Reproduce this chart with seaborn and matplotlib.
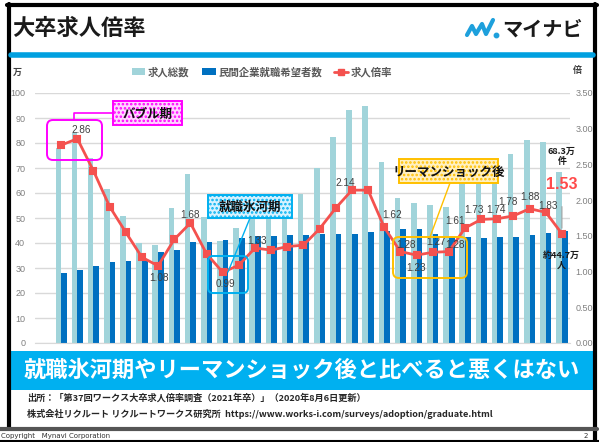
import numpy as np
import pandas as pd
import seaborn as sns
import matplotlib
matplotlib.use("Agg")
import matplotlib.pyplot as plt
import matplotlib.transforms as mtransforms
from matplotlib.patches import Rectangle, FancyBboxPatch, Patch
from matplotlib.lines import Line2D

# ---------------- data ----------------
years = [str(y) for y in range(1990, 2022)]
job_openings = [77.99, 84.03, 73.86, 61.70, 50.77, 40.00, 39.05, 54.12, 67.55, 50.24,
                40.76, 46.16, 57.35, 55.98, 58.34, 59.60, 69.82, 82.51, 93.28, 94.84,
                72.51, 58.19, 55.99, 55.35, 54.34, 68.32, 71.94, 73.43, 75.51, 81.35,
                80.50, 68.30]
applicants = [28.11, 29.35, 30.64, 32.35, 32.66, 33.28, 36.23, 37.30, 40.32, 40.32,
              41.23, 42.16, 43.00, 42.94, 43.30, 43.40, 43.60, 43.69, 43.48, 44.40,
              44.78, 45.55, 45.44, 43.42, 42.27, 42.35, 41.84, 42.26, 42.32, 43.21,
              44.02, 44.70]
ratio = [2.77, 2.86, 2.41, 1.91, 1.55, 1.20, 1.08, 1.45, 1.68, 1.25,
         0.99, 1.09, 1.33, 1.30, 1.35, 1.37, 1.60, 1.89, 2.14, 2.14,
         1.62, 1.28, 1.23, 1.27, 1.28, 1.61, 1.73, 1.74, 1.78, 1.88,
         1.83, 1.53]
series_names = ["求人総数", "民間企業就職希望者数", "求人倍率"]
left_ticks = list(range(0, 101, 10))
right_ticks = [0.0, 0.5, 1.0, 1.5, 2.0, 2.5, 3.0, 3.5]

# labelled points: index -> (dx px, dy px)
label_pts = {1: (4, 9), 6: (1, -12), 8: (0, 8), 10: (3, -12), 12: (2, 7),
             18: (-7, 7), 20: (8, 12), 21: (6, 7), 22: (0, -13), 23: (3, 10),
             24: (6, 7), 25: (-10, 7), 26: (-7, 9), 27: (-1, 9), 28: (-6, 14),
             29: (0, 12), 30: (2, 6)}

# ---------------- style ----------------
LIGHT = "#a1d4da"
DARK = "#0070c0"
RED = "#f4514e"
NUMFONT = ["Liberation Sans", "DejaVu Sans"]
sns.set_style("white")
plt.rcParams["font.family"] = ["Noto Sans CJK JP", "DejaVu Sans"]
plt.rcParams["hatch.linewidth"] = 1.2

W, H = 599, 442
fig = plt.figure(figsize=(W / 100, H / 100), dpi=100)
PX = mtransforms.Affine2D().scale(1 / W, -1 / H).translate(0, 1) + fig.transFigure

ax = fig.add_axes([35 / W, 1 - 343 / H, 535 / W, 250 / H])

df = pd.DataFrame({
    "year": years * 2,
    "series": [series_names[0]] * len(years) + [series_names[1]] * len(years),
    "value": job_openings + applicants,
})
sns.barplot(data=df, x="year", y="value", hue="series", hue_order=series_names[:2],
            palette=[LIGHT, DARK], saturation=1, width=0.7, ax=ax, legend=False,
            linewidth=0)

ax.set_ylim(0, 100)
ax.set_yticks(left_ticks)
ax.set_yticklabels([str(t) for t in left_ticks], family=NUMFONT)
ax.grid(axis="y", color="#d9d9d9", linewidth=1)
ax.set_axisbelow(True)
ax.set_xlabel("")
ax.set_ylabel("")
for s in ["top", "right", "left"]:
    ax.spines[s].set_visible(False)
ax.spines["bottom"].set_color("#d9d9d9")
ax.set_xticks(np.arange(-0.5, len(years), 1.0))
ax.set_xticklabels([])
ax.tick_params(axis="x", length=3, color="#d9d9d9", width=0.8)
ax.tick_params(axis="y", length=0, labelsize=6.5, labelcolor="#808080", pad=7)

ax2 = ax.twinx()
rdf = pd.DataFrame({"year": years, "ratio": ratio})
sns.pointplot(data=rdf, x="year", y="ratio", ax=ax2, color=RED, markers="s",
              linestyles="-", markersize=5, linewidth=2.0, errorbar=None)
ax2.set_ylim(0, 3.5)
ax2.set_yticks(right_ticks)
ax2.set_yticklabels([f"{t:.2f}" for t in right_ticks], family=NUMFONT)
ax2.set_xlabel("")
ax2.set_ylabel("")
for s in ["top", "right", "left", "bottom"]:
    ax2.spines[s].set_visible(False)
ax2.tick_params(axis="y", length=0, labelsize=6.5, labelcolor="#808080", pad=4)
ax2.tick_params(axis="x", length=0)
ax.set_xlim(-1.62, len(years) - 0.5)
ax2.set_xlim(-1.62, len(years) - 0.5)

for i, (dx, dy) in label_pts.items():
    ax2.annotate(f"{ratio[i]:.2f}", xy=(i, ratio[i]), xytext=(dx, dy),
                 textcoords="offset pixels", ha="center", va="center",
                 fontsize=7.2, color="#404040", family=NUMFONT)

last = len(years) - 1
ax2.annotate(f"{ratio[last]:.2f}", xy=(last, ratio[last]), xytext=(0, 49),
             textcoords="offset pixels", ha="center", va="center",
             fontsize=11.5, fontweight="bold", color="#ff4b4b", family=NUMFONT,
             arrowprops=dict(arrowstyle="-", color="#a0a0a0", lw=0.8,
                             shrinkA=8, shrinkB=4))
ax.annotate(f"{job_openings[last]:.1f}万\n件", xy=(last, job_openings[last]),
            xytext=(0, 16), textcoords="offset pixels", ha="center", va="center",
            fontsize=6.5, fontweight="bold", color="#1a1a1a", linespacing=1.15)
ax.annotate(f"約{applicants[last]:.1f}万\n人", xy=(last, applicants[last]),
            xytext=(-1, -29), textcoords="offset pixels", ha="center", va="center",
            fontsize=6.5, fontweight="bold", color="#1a1a1a", linespacing=1.15)

# ---------------- decorations (pixel coords, y from top) ----------------
def line(xs, ys, color, lw, **kw):
    fig.add_artist(Line2D(xs, ys, color=color, lw=lw, transform=PX, **kw))

def rrect(x0, y0, x1, y1, color, lw=1.4, r=4):
    fig.add_artist(FancyBboxPatch((x0, y0), x1 - x0, y1 - y0,
                                  boxstyle=f"round,pad=0,rounding_size={r}",
                                  fill=False, edgecolor=color, lw=lw, transform=PX,
                                  zorder=5))

def label_box(x0, y0, x1, y1, color, tint, text):
    fig.add_artist(Rectangle((x0, y0), x1 - x0, y1 - y0, facecolor=tint,
                             edgecolor=color, hatch="....", lw=0, transform=PX,
                             zorder=5))
    fig.add_artist(Rectangle((x0, y0), x1 - x0, y1 - y0, fill=False,
                             edgecolor=color, lw=1.4, transform=PX, zorder=6))
    fig.text((x0 + x1) / 2, (y0 + y1) / 2 + 1, text, transform=PX, ha="center",
             va="center", fontsize=9, fontweight="bold", color="#111111", zorder=7)

# bubble period
MAG = "#ff00ff"
rrect(47, 120, 102, 160, MAG, r=6)
line([74, 74, 113], [120, 113, 113], MAG, 1.2, zorder=5)
label_box(113, 101, 182, 125, MAG, "#ffd6ff", "バブル期")

# ice age
CY = "#00b0f0"
rrect(208, 256, 248, 293, CY, r=5)
line([250, 228], [218, 272], CY, 1.0, zorder=5)
label_box(208, 195, 292, 218, CY, "#d6f2ff", "就職氷河期")

# after Lehman
GOLD = "#ffc000"
rrect(393, 237, 467, 278, GOLD, r=6)
line([450, 430], [183, 237], GOLD, 1.0, zorder=5)
label_box(399, 159, 498, 183, GOLD, "#fff0c2", "リーマンショック後")

# frame
line([9, 9], [4, 428], "black", 3.0)
line([7, 597], [5, 5], "black", 3.0)
line([595, 595], [4, 442], "black", 3.0)
line([0, 597], [429, 429], "#555555", 3.0)
line([0, 599], [441, 441], "black", 1.5)

# header
fig.text(12, 28, "大卒求人倍率", transform=PX, ha="left", va="center",
         fontsize=16, fontweight="bold", color="#1a1a1a")
line([467, 472, 476, 482, 486, 493], [35, 26, 34, 24, 34, 20], "#1ea0dc", 3.0,
     solid_capstyle="round", solid_joinstyle="round")
fig.add_artist(Line2D([496], [35], marker="o", markersize=3.2, color="#1ea0dc",
                      transform=PX))
fig.text(542, 29, "マイナビ", transform=PX, ha="center", va="center",
         fontsize=14.5, fontweight="bold", color="#1a1a1a")
line([11, 593], [55, 55], "#00a0e0", 4.0)

# legend row
fig.text(17, 72, "万", transform=PX, ha="center", va="center", fontsize=6.5,
         fontweight="bold", color="#404040")
fig.text(577, 70, "倍", transform=PX, ha="center", va="center", fontsize=6.5,
         fontweight="bold", color="#404040")
handles = [Patch(facecolor=LIGHT, edgecolor="none"),
           Patch(facecolor=DARK, edgecolor="none"),
           Line2D([], [], color=RED, lw=2, marker="s", markersize=4)]
fig.legend(handles, series_names, loc="center",
           bbox_to_anchor=(262 / W, 1 - 72 / H), ncol=3, frameon=False,
           prop={"size": 7.5, "weight": "bold"}, labelcolor="#595959",
           handlelength=1.3, handleheight=0.6, handletextpad=0.25,
           columnspacing=1.2)

# banner
fig.add_artist(Rectangle((11, 351), 582, 39, facecolor="#00b0f0",
                         edgecolor="none", transform=PX))
fig.text(302, 370, "就職氷河期やリーマンショック後と比べると悪くはない",
         transform=PX, ha="center", va="center", fontsize=16,
         fontweight="bold", color="white")

# source
fig.text(27, 398, "出所：「第37回ワークス大卒求人倍率調査（2021年卒）」（2020年8月6日更新）",
         transform=PX, ha="left", va="center", fontsize=6.6, fontweight="bold",
         color="#262626")
fig.text(27, 414, "株式会社リクルート リクルートワークス研究所  https://www.works-i.com/surveys/adoption/graduate.html",
         transform=PX, ha="left", va="center", fontsize=6.6, fontweight="bold",
         color="#262626")
fig.text(1, 436, "Copyright   Mynavi Corporation", transform=PX, ha="left",
         va="center", fontsize=5, color="#333333", family="DejaVu Sans")
fig.text(586, 436, "2", transform=PX, ha="center", va="center", fontsize=5,
         color="#333333", family="DejaVu Sans")

fig.savefig("out.png", dpi=100)
